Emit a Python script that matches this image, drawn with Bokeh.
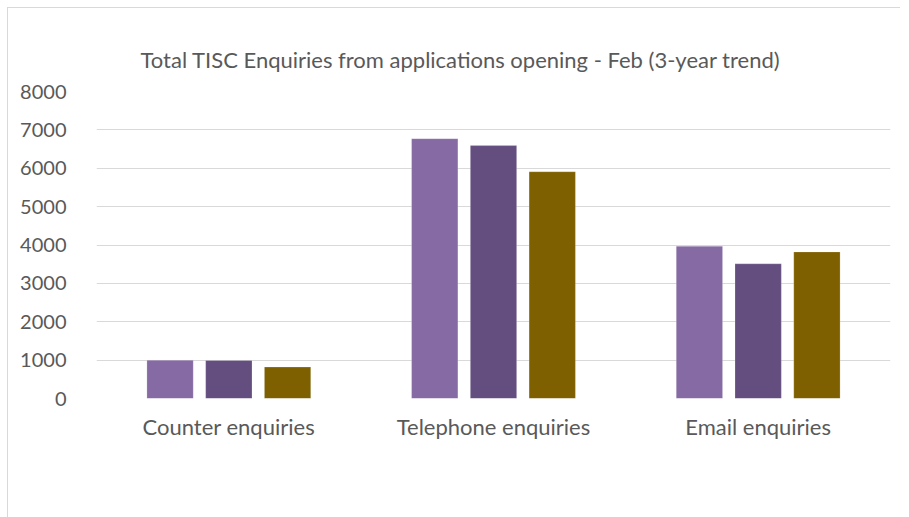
from bokeh.plotting import figure
from bokeh.models import ColumnDataSource, FactorRange, Legend, LegendItem, Range1d
from bokeh.transform import dodge
from bokeh.embed import file_html
from bokeh.resources import INLINE

categories = ["Counter enquiries", "Telephone enquiries", "Email enquiries"]
years = ["2020-21", "2021-22", "2022-23"]
v_2020_21 = [1000, 6770, 3970]
v_2021_22 = [990, 6590, 3510]
v_2022_23 = [820, 5910, 3820]
colors = ["#866AA3", "#644D7F", "#7F6000"]
y_ticks = [0, 1000, 2000, 3000, 4000, 5000, 6000, 7000, 8000]

FONT = "Lato"
TXT = "#595959"

src = ColumnDataSource(dict(cat=categories, a=v_2020_21, b=v_2021_22, c=v_2022_23))

p = figure(x_range=FactorRange(*categories, range_padding=0), y_range=Range1d(0, 8000),
           frame_width=794, frame_height=307, output_backend="svg", toolbar_location=None,
           min_border_left=88, min_border_right=11, min_border_top=83, min_border_bottom=0)
p.outline_line_color = None
p.margin = (8, 0, 0, 8)
p.styles = {"box-shadow": "-1px -1px 0 0 #d9d9d9"}

renderers = []
for col, off, color in zip(["a", "b", "c"], [-0.222, 0.0, 0.222], colors):
    r = p.vbar(x=dodge("cat", off, range=p.x_range), top=col, width=0.175, source=src,
               fill_color=color, line_color="#ffffff", line_width=0.5, line_alpha=0.4)
    renderers.append(r)

p.title.text = "Total TISC Enquiries from applications opening - Feb (3-year trend)"
p.title.text_font = FONT
p.title.text_font_size = "22px"
p.title.text_font_style = "normal"
p.title.text_color = TXT
p.title.align = "left"
p.title.offset = 44
p.title.standoff = 37

p.yaxis.ticker = y_ticks
p.yaxis.axis_line_color = None
p.yaxis.major_tick_line_color = None
p.yaxis.minor_tick_line_color = None
p.yaxis.major_label_text_font = FONT
p.yaxis.major_label_text_font_size = "20px"
p.yaxis.major_label_text_color = TXT
p.yaxis.major_label_standoff = 24

p.xaxis.axis_line_color = None
p.xaxis.major_tick_line_color = None
p.xaxis.major_label_text_font = FONT
p.xaxis.major_label_text_font_size = "22px"
p.xaxis.major_label_text_color = TXT
p.xaxis.major_label_standoff = 8

p.xgrid.grid_line_color = None
p.ygrid.grid_line_color = "#d9d9d9"
p.ygrid.grid_line_width = 1

legend = Legend(items=[LegendItem(label=y, renderers=[r]) for y, r in zip(years, renderers)],
                orientation="horizontal", location="center")
legend.label_text_font = FONT
legend.label_text_font_size = "20px"
legend.label_text_color = TXT
legend.glyph_width = 13
legend.glyph_height = 13
legend.spacing = 20
legend.padding = 0
legend.margin = 30
legend.border_line_color = None
legend.background_fill_alpha = 0
legend.label_standoff = 6
p.add_layout(legend, "below")

open("out.html", "w").write(file_html(p, INLINE))
